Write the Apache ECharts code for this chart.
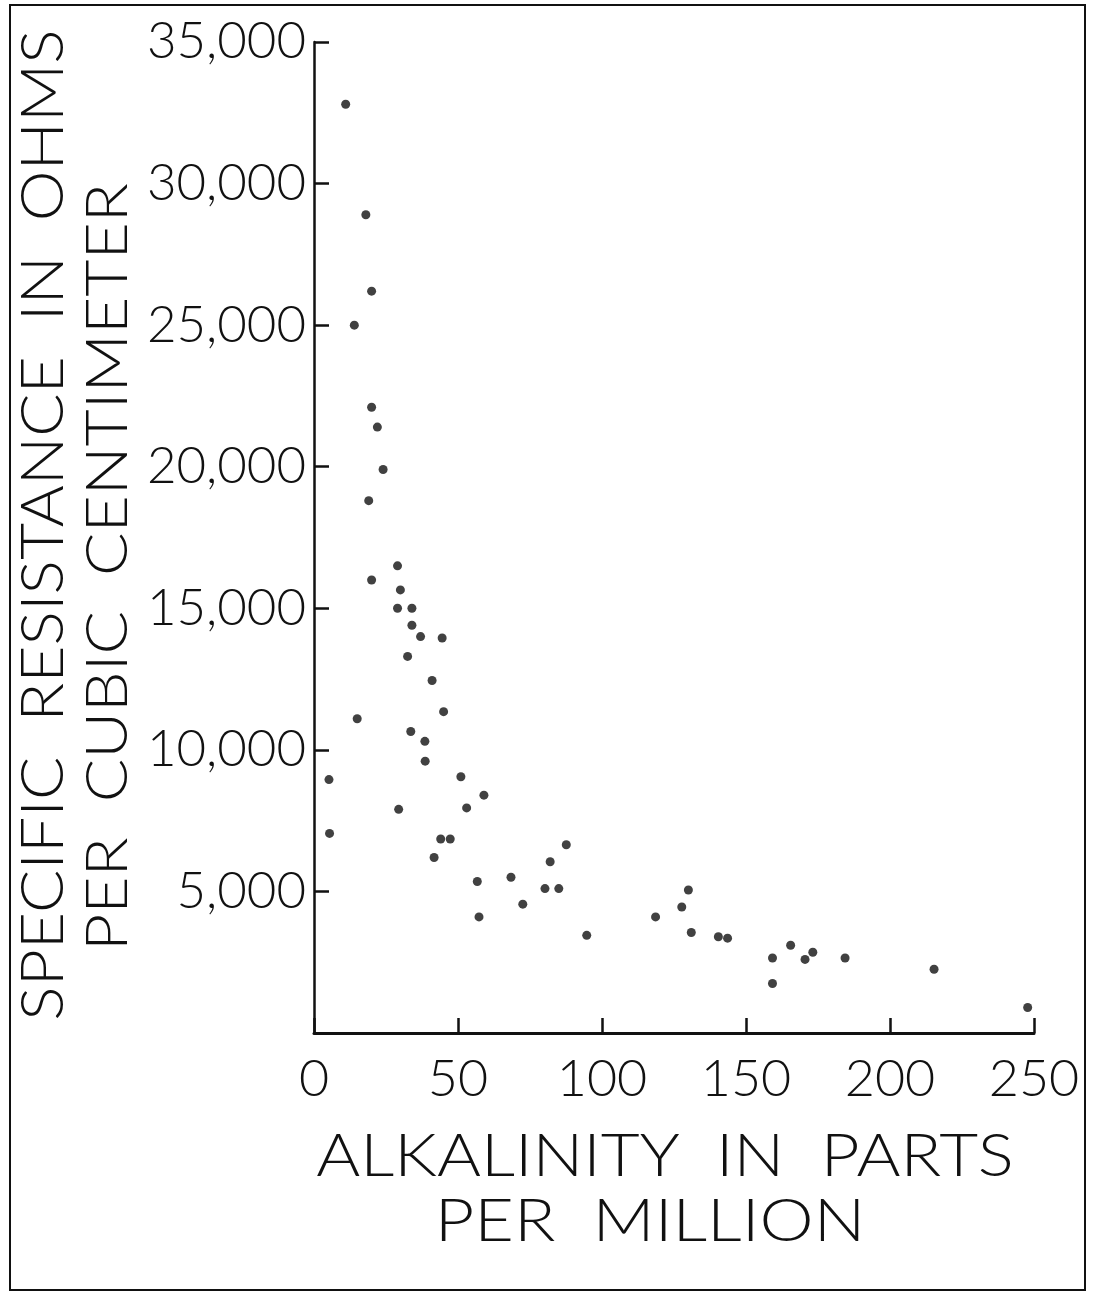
<!DOCTYPE html>
<html>
<head>
<meta charset="utf-8">
<script src="https://cdn.jsdelivr.net/npm/echarts@6/dist/echarts.min.js"></script>
<style>
  html, body { margin: 0; padding: 0; background: #fff; }
  #chart { width: 1095px; height: 1292px; }
</style>
</head>
<body>
<div id="chart"></div>
<script>
// 读图估计的数据点
const alkalinity = [11, 18, 20, 14, 20, 22, 24, 19, 29, 20, 30, 29, 34, 34, 37, 44.5, 32.5, 41, 45, 15,
  33.6, 38.5, 38.6, 5.2, 51, 59, 53, 29.4, 5.4, 44, 47.3, 41.7, 56.7, 68.4, 57.3, 72.5, 80.2, 82, 85, 87.6,
  94.7, 118.6, 127.7, 130, 131, 140.4, 143.6, 159.2, 159.2, 165.5, 170.5, 173.2, 184.4, 215.3, 247.8]
const resistance = [32800, 28900, 26200, 25000, 22100, 21400, 19900, 18800, 16500, 16000, 15650, 15000, 15000, 14400, 14000, 13950, 13300, 12450, 11350, 11100,
  10650, 10300, 9600, 8950, 9050, 8400, 7950, 7900, 7050, 6850, 6850, 6200, 5350, 5500, 4100, 4550, 5100, 6050, 5100, 6650,
  3450, 4100, 4450, 5050, 3550, 3400, 3350, 2650, 1750, 3100, 2600, 2850, 2650, 2250, 900]

const xTicks = [0, 50, 100, 150, 200, 250]
const yTicks = [0, 5000, 10000, 15000, 20000, 25000, 30000, 35000]

const FONT = "Lato, 'Open Sans', 'Liberation Sans', sans-serif"

const chart = echarts.init(document.getElementById('chart'))

const points = alkalinity.map((x, i) => [x, resistance[i]])

// 轴标题文字（旋转/拉伸）
const titleText = (text, x, y, size, rot, sx) => ({
  type: 'text',
  x: x, y: y,
  rotation: rot,
  scaleX: sx,
  style: {
    text: text,
    font: '300 ' + size + 'px ' + FONT,
    fill: '#111',
    align: 'center',
    verticalAlign: 'middle'
  }
})

chart.setOption({
  backgroundColor: '#fff',
  animation: false,
  grid: { left: 314, right: 61, top: 42, bottom: 259 },
  xAxis: {
    type: 'value',
    min: xTicks[0],
    max: xTicks[xTicks.length - 1],
    interval: 50,
    axisLine: { lineStyle: { color: '#111', width: 3 } },
    axisTick: { inside: true, length: 15, lineStyle: { color: '#111', width: 2.5 } },
    splitLine: { show: false },
    axisLabel: {
      margin: 20,
      fontFamily: FONT,
      fontWeight: 300,
      fontSize: 52,
      color: '#111'
    }
  },
  yAxis: {
    type: 'value',
    min: yTicks[0],
    max: yTicks[yTicks.length - 1],
    interval: 5000,
    axisLine: { show: true, lineStyle: { color: '#111', width: 2.5 } },
    axisTick: { show: true, inside: true, length: 15, lineStyle: { color: '#111', width: 2.5 } },
    splitLine: { show: false },
    axisLabel: {
      margin: 8,
      fontFamily: FONT,
      fontWeight: 300,
      fontSize: 51,
      color: '#111',
      formatter: v => (v === 0 ? '' : v.toLocaleString('en-US'))
    }
  },
  graphic: [
    // 外框
    {
      type: 'rect',
      shape: { x: 10, y: 5, width: 1075, height: 1285 },
      style: { fill: 'none', stroke: '#111', lineWidth: 2 },
      silent: true
    },
    titleText('SPECIFIC  RESISTANCE  IN  OHMS', 44, 525, 60, Math.PI / 2, 1.07),
    titleText('PER  CUBIC  CENTIMETER', 108, 567, 58, Math.PI / 2, 1.11),
    titleText('ALKALINITY  IN  PARTS', 665, 1157, 60, 0, 1.12),
    titleText('PER  MILLION', 650, 1222, 60, 0, 1.14)
  ],
  series: [
    {
      type: 'scatter',
      data: points,
      symbol: 'circle',
      symbolSize: 9,
      itemStyle: { color: '#111' }
    }
  ]
})
</script>
</body>
</html>
